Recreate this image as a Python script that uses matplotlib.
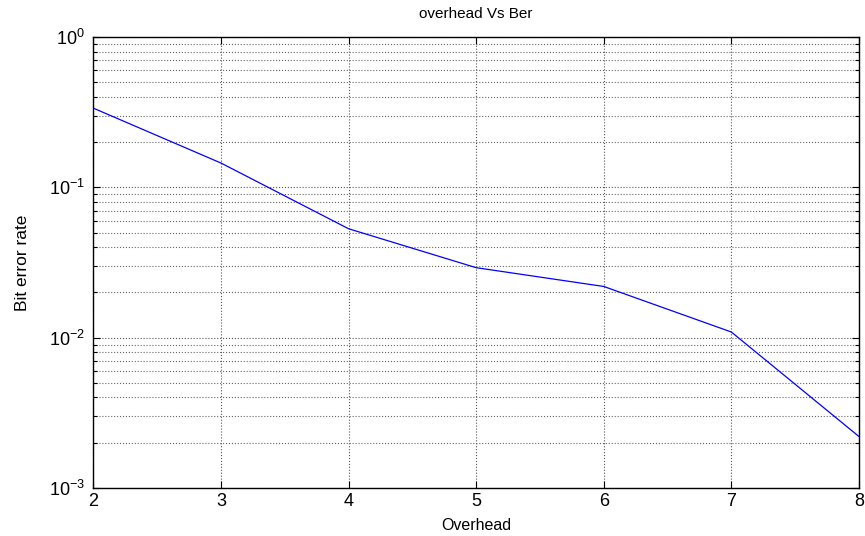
import matplotlib
matplotlib.use("Agg")
import matplotlib.pyplot as plt
from matplotlib.ticker import LogLocator, NullFormatter

overhead = [2, 3, 4, 5, 6, 7, 8]
ber = [0.336, 0.145, 0.053, 0.0292, 0.0219, 0.0109, 0.0022]

plt.rcParams['font.family'] = ['Liberation Sans', 'DejaVu Sans']
plt.rcParams['mathtext.fontset'] = 'custom'
plt.rcParams['mathtext.rm'] = 'Liberation Sans'
plt.rcParams['mathtext.it'] = 'Liberation Sans:italic'
plt.rcParams['mathtext.bf'] = 'Liberation Sans:bold'
plt.rcParams['mathtext.default'] = 'regular'

fig = plt.figure(figsize=(8.65, 5.36), dpi=100)
ax = fig.add_axes([0.108, 0.0896, 0.885, 0.8414])
ax.plot(overhead, ber, color='#0000ff', linewidth=0.9)
ax.set_yscale('log')
ax.set_xlim(2, 8)
ax.set_ylim(1e-3, 1e0)
ax.yaxis.set_major_locator(LogLocator(base=10, numticks=10))
ax.yaxis.set_minor_locator(LogLocator(base=10, subs=range(2, 10), numticks=20))
ax.yaxis.set_minor_formatter(NullFormatter())
ax.grid(True, which='major', color='#555555', linestyle=':', linewidth=0.8)
ax.grid(True, which='minor', axis='y', color='#666666', linestyle=':', linewidth=0.8)
ax.tick_params(which='both', direction='in', top=True, right=True, labelsize=13, length=5, width=0.8)
ax.tick_params(axis='y', pad=6)
ax.tick_params(which='minor', length=3)
for s in ax.spines.values():
    s.set_linewidth(1.0)
ax.set_title('overhead Vs Ber', fontsize=11, pad=14)
ax.set_xlabel('Overhead', fontsize=11.5, labelpad=6)
ax.set_ylabel('Bit error rate', fontsize=12.5, labelpad=14,
              family=['Liberation Sans Narrow', 'Liberation Sans', 'DejaVu Sans'])
fig.savefig('out.png', dpi=100)
